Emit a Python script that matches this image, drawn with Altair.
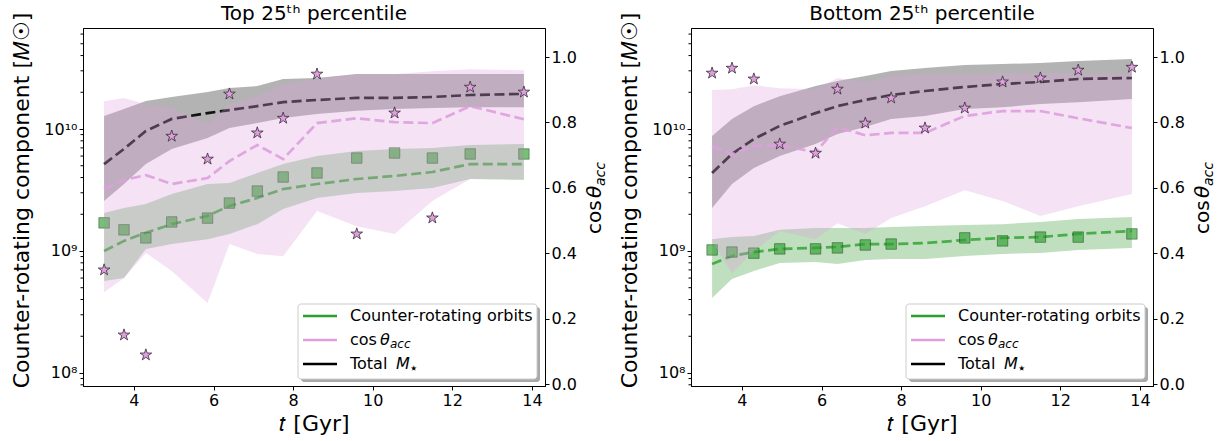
import altair as alt
import pandas as pd

# Snapshot times (Gyr)
t_gyr = [3.25, 3.75, 4.3, 4.95, 5.85, 6.4, 7.1, 7.75, 8.6, 9.6, 10.55, 11.5, 12.45, 13.8]

# ---- Top 25th percentile -------------------------------------------------
top_total_med = [5.16e9, 6.86e9, 9.63e9, 1.21e10, 1.35e10, 1.43e10, 1.54e10, 1.66e10, 1.73e10, 1.80e10, 1.80e10, 1.83e10, 1.90e10, 1.94e10]
top_total_hi = [1.28e10, 1.46e10, 1.70e10, 1.83e10, 2.01e10, 2.17e10, 2.25e10, 2.57e10, 2.62e10, 2.82e10, 2.82e10, 2.82e10, 2.82e10, 2.82e10]
top_total_lo = [2.57e9, 3.54e9, 5.16e9, 6.86e9, 8.44e9, 1.02e10, 1.12e10, 1.23e10, 1.33e10, 1.41e10, 1.46e10, 1.49e10, 1.51e10, 1.51e10]
top_cr_med = [1.00e9, 1.21e9, 1.41e9, 1.66e9, 1.94e9, 2.34e9, 2.72e9, 3.22e9, 3.54e9, 3.89e9, 4.12e9, 4.44e9, 5.16e9, 5.16e9]
top_cr_hi = [2.05e9, 2.25e9, 2.43e9, 2.93e9, 3.54e9, 3.61e9, 4.36e9, 5.16e9, 6.01e9, 6.60e9, 6.86e9, 6.99e9, 7.40e9, 7.54e9]
top_cr_lo = [5.68e8, 6.01e8, 1.04e9, 1.14e9, 1.25e9, 1.38e9, 1.66e9, 2.21e9, 2.72e9, 2.99e9, 3.10e9, 3.28e9, 3.89e9, 3.82e9]
top_cr_gal = [1.70e9, 1.49e9, 1.28e9, 1.73e9, 1.86e9, 2.47e9, 3.10e9, 4.04e9, 4.36e9, 5.78e9, 6.36e9, 5.78e9, 6.24e9, 6.24e9]
top_cos_med = [0.596, 0.624, 0.639, 0.612, 0.630, 0.682, 0.731, 0.688, 0.798, 0.813, 0.801, 0.798, 0.850, 0.810]
top_cos_hi = [0.865, 0.875, 0.856, 0.844, 0.795, 0.856, 0.881, 0.917, 0.933, 0.948, 0.948, 0.957, 0.963, 0.960]
top_cos_lo = [0.281, 0.324, 0.401, 0.346, 0.248, 0.428, 0.398, 0.391, 0.529, 0.483, 0.459, 0.560, 0.627, 0.627]
top_cos_gal = [0.349, 0.150, 0.089, 0.758, 0.688, 0.887, 0.768, 0.813, 0.948, 0.459, 0.829, 0.508, 0.908, 0.893]

# ---- Bottom 25th percentile ----------------------------------------------
bot_total_med = [4.36e9, 6.24e9, 8.28e9, 1.06e10, 1.35e10, 1.54e10, 1.73e10, 1.90e10, 2.05e10, 2.21e10, 2.34e10, 2.43e10, 2.57e10, 2.62e10]
bot_total_hi = [8.76e9, 1.21e10, 1.54e10, 1.86e10, 2.25e10, 2.47e10, 2.72e10, 2.99e10, 3.16e10, 3.35e10, 3.41e10, 3.48e10, 3.61e10, 3.75e10]
bot_total_lo = [2.25e9, 3.54e9, 4.79e9, 6.01e9, 7.54e9, 9.10e9, 1.04e10, 1.21e10, 1.28e10, 1.46e10, 1.51e10, 1.60e10, 1.66e10, 1.76e10]
bot_cr_med = [7.82e8, 9.10e8, 9.80e8, 1.04e9, 1.06e9, 1.08e9, 1.14e9, 1.14e9, 1.16e9, 1.23e9, 1.28e9, 1.30e9, 1.38e9, 1.46e9]
bot_cr_hi = [1.25e9, 1.30e9, 1.33e9, 1.49e9, 1.54e9, 1.54e9, 1.54e9, 1.57e9, 1.60e9, 1.63e9, 1.66e9, 1.73e9, 1.83e9, 1.90e9]
bot_cr_lo = [4.12e8, 5.89e8, 6.86e8, 7.98e8, 8.13e8, 7.82e8, 8.44e8, 8.60e8, 8.60e8, 9.10e8, 9.45e8, 9.64e8, 1.02e9, 1.06e9]
bot_cr_gal = [1.02e9, 9.80e8, 9.60e8, 1.04e9, 1.04e9, 1.06e9, 1.12e9, 1.14e9, None, 1.28e9, 1.21e9, 1.30e9, 1.30e9, 1.38e9]
bot_cos_med = [0.728, 0.703, 0.728, 0.731, 0.709, 0.786, 0.761, 0.768, 0.768, 0.820, 0.835, 0.835, 0.813, 0.783]
bot_cos_hi = [0.899, 0.902, 0.914, 0.905, 0.902, 0.936, 0.924, 0.942, 0.948, 0.948, 0.951, 0.951, 0.951, 0.948]
bot_cos_lo = [0.437, 0.339, 0.407, 0.468, 0.443, 0.492, 0.459, 0.508, 0.544, 0.593, 0.560, 0.514, 0.544, 0.581]
bot_cos_gal = [0.951, 0.966, 0.933, 0.734, 0.706, 0.902, 0.798, 0.875, 0.783, 0.844, 0.924, 0.936, 0.960, 0.969]

# Axis ticks and labels
t_ticks = [4, 6, 8, 10, 12, 14]
mass_ticks = [1e8, 1e9, 1e10]
mass_tick_labels = ["10⁸", "10⁹", "10¹⁰"]
cos_ticks = [0.0, 0.2, 0.4, 0.6, 0.8, 1.0]
legend_labels = ["Counter-rotating orbits", "cos", "Total"]
panel_titles = ["Top 25ᵗʰ percentile", "Bottom 25ᵗʰ percentile"]

FONT = "DejaVu Sans"
W, H = 462, 358
X_DOMAIN = [2.72, 14.33]
MASS_DOMAIN = [7.82e7, 6.73e10]
COS_DOMAIN = [-0.006, 1.089]

GREEN_FILL = "#008000"
GREEN = "#2ca02c"
PLUM = "#dda0dd"
GREY = "#808080"

# five-pointed star marker (unit path)
STAR = ("M0,-1L0.225,-0.309L0.951,-0.309L0.363,0.118L0.588,0.809L0,0.382"
        "L-0.588,0.809L-0.363,0.118L-0.951,-0.309L-0.225,-0.309Z")

mass_minor = [k * 10.0 ** e for e in (7, 8, 9, 10) for k in range(2, 10)
              if MASS_DOMAIN[0] <= k * 10.0 ** e <= MASS_DOMAIN[1]]

label_expr = " : ".join(
    f"datum.value < {v * 3:.0e} ? '{lab}'" for v, lab in zip(mass_ticks[:-1], mass_tick_labels[:-1])
) + f" : '{mass_tick_labels[-1]}'"


def panel(title, total_med, total_lo, total_hi, cr_med, cr_lo, cr_hi, cr_gal,
          cos_med, cos_lo, cos_hi, cos_gal):
    df = pd.DataFrame({
        "t": t_gyr,
        "total_med": total_med, "total_lo": total_lo, "total_hi": total_hi,
        "cr_med": cr_med, "cr_lo": cr_lo, "cr_hi": cr_hi, "cr_gal": cr_gal,
        "cos_med": cos_med, "cos_lo": cos_lo, "cos_hi": cos_hi, "cos_gal": cos_gal,
    })
    base = alt.Chart(df)
    xs = alt.Scale(domain=X_DOMAIN, nice=False, zero=False)
    x_axis = alt.Axis(values=t_ticks, title="𝑡 [Gyr]", titlePadding=5, labelPadding=2)
    ms = alt.Scale(type="log", domain=MASS_DOMAIN, nice=False)
    cs = alt.Scale(domain=COS_DOMAIN, nice=False, zero=False)
    mass_axis = alt.Axis(values=mass_ticks, labelExpr=label_expr,
                         title="Counter-rotating component [𝑀☉]", orient="left",
                         titlePadding=10, titleY=172)
    cos_axis = alt.Axis(values=cos_ticks, format=".1f", title="", orient="right")

    def X():
        return alt.X("t:Q", scale=xs, axis=x_axis)

    def YM(f):
        return alt.Y(f, type="quantitative", scale=ms, axis=mass_axis)

    def YC(f):
        return alt.Y(f, type="quantitative", scale=cs, axis=cos_axis)

    dash = dict(strokeWidth=2.7, strokeDash=[10, 4.5])

    grey_band = base.mark_area(color=GREY, opacity=0.6).encode(x=X(), y=YM("total_lo"), y2="total_hi:Q")
    green_band = base.mark_area(color=GREEN_FILL, opacity=0.25).encode(x=X(), y=YM("cr_lo"), y2="cr_hi:Q")
    minor = alt.Chart(pd.DataFrame({"v": mass_minor})).mark_rule(color="black", strokeWidth=1).encode(
        y=YM("v"), x=alt.value(0), x2=alt.value(-2.5))
    total_line = base.mark_line(color="black", opacity=0.9, **dash).encode(x=X(), y=YM("total_med"))
    cr_line = base.mark_line(color=GREEN, opacity=0.8, **dash).encode(x=X(), y=YM("cr_med"))
    cr_pts = base.mark_point(shape="square", filled=True, size=110, fill=GREEN, fillOpacity=0.65,
                             stroke="#1f3f1f", strokeWidth=0.8, strokeOpacity=0.6).encode(
        x=X(), y=YM("cr_gal"))
    mass_group = alt.layer(grey_band, green_band, minor, total_line, cr_line, cr_pts)

    cos_band = base.mark_area(color=PLUM, opacity=0.3).encode(x=X(), y=YC("cos_lo"), y2="cos_hi:Q")
    cos_line = base.mark_line(color=PLUM, opacity=0.9, **dash).encode(x=X(), y=YC("cos_med"))
    cos_pts = base.mark_point(shape=STAR, filled=True, size=150, fill=PLUM, fillOpacity=1,
                              stroke="#3a2a3a", strokeWidth=0.8).encode(x=X(), y=YC("cos_gal"))
    cos_group = alt.layer(cos_band, cos_line, cos_pts)

    one = alt.Chart(pd.DataFrame({"k": [0]}))

    # panel title
    head = [one.mark_text(align="center", baseline="alphabetic", font=FONT, fontSize=20, color="black")
            .encode(x=alt.value(W / 2), y=alt.value(-8), text=alt.value(title))]

    # right-hand axis title: cos θ_acc
    rt = [
        one.mark_text(angle=270, align="left", baseline="alphabetic", font=FONT, fontSize=20, color="black")
        .encode(x=alt.value(W + 56), y=alt.value(206), text=alt.value("cos")),
        one.mark_text(angle=270, align="left", baseline="alphabetic", font=FONT, fontSize=20,
                      fontStyle="italic", color="black")
        .encode(x=alt.value(W + 56), y=alt.value(170), text=alt.value("θ")),
        one.mark_text(angle=270, align="left", baseline="alphabetic", font=FONT, fontSize=14,
                      fontStyle="italic", color="black")
        .encode(x=alt.value(W + 60), y=alt.value(158), text=alt.value("acc")),
    ]

    # legend box
    lx0, lx1, ly0, ly1 = 215, 454, 276, 351
    leg = [
        one.mark_rect(fill="#a8a8a8", cornerRadius=3).encode(
            x=alt.value(lx0 + 3), x2=alt.value(lx1 + 3), y=alt.value(ly0 + 3), y2=alt.value(ly1 + 3)),
        one.mark_rect(fill="white", stroke="#cccccc", strokeWidth=1, cornerRadius=3).encode(
            x=alt.value(lx0), x2=alt.value(lx1), y=alt.value(ly0), y2=alt.value(ly1)),
    ]
    rows = [288, 312, 336]
    for ry, col in zip(rows, [GREEN, PLUM, "black"]):
        leg.append(one.mark_rule(color=col, strokeWidth=2.5).encode(
            x=alt.value(220), x2=alt.value(254), y=alt.value(ry)))
    tx = 267

    def txt(s, dx, ry, size=16, style="normal", dy=0):
        return one.mark_text(align="left", baseline="middle", font=FONT, fontSize=size,
                             fontStyle=style, color="black").encode(
            x=alt.value(tx + dx), y=alt.value(ry + dy), text=alt.value(s))
    leg += [
        txt(legend_labels[0], 0, rows[0]),
        txt(legend_labels[1], 0, rows[1]),
        txt("θ", 30, rows[1], style="italic"),
        txt("acc", 40, rows[1], size=12, style="italic", dy=4),
        txt(legend_labels[2], 0, rows[2]),
        txt("M", 46, rows[2], style="italic"),
        txt("⋆", 59, rows[2], size=15, dy=4),
    ]

    return alt.layer(mass_group, cos_group, *head, *rt, *leg).resolve_scale(y="independent").properties(
        width=W, height=H)


left = panel(panel_titles[0], top_total_med, top_total_lo, top_total_hi, top_cr_med, top_cr_lo,
             top_cr_hi, top_cr_gal, top_cos_med, top_cos_lo, top_cos_hi, top_cos_gal)
right = panel(panel_titles[1], bot_total_med, bot_total_lo, bot_total_hi, bot_cr_med, bot_cr_lo,
              bot_cr_hi, bot_cr_gal, bot_cos_med, bot_cos_lo, bot_cos_hi, bot_cos_gal)

chart = alt.hconcat(left, right, spacing=9).properties(
    padding={"left": 10, "top": 3, "right": 0, "bottom": 0}
).configure_view(stroke="black", strokeWidth=1).configure_axis(
    labelFont=FONT, labelFontSize=16, labelColor="black", titleFont=FONT, titleFontSize=22,
    titleFontWeight="normal", titleColor="black", tickColor="black", domainColor="black",
    tickSize=4, grid=False, labelPadding=2,
)

chart.save("out.html", embed_options={"renderer": "svg", "actions": False})
